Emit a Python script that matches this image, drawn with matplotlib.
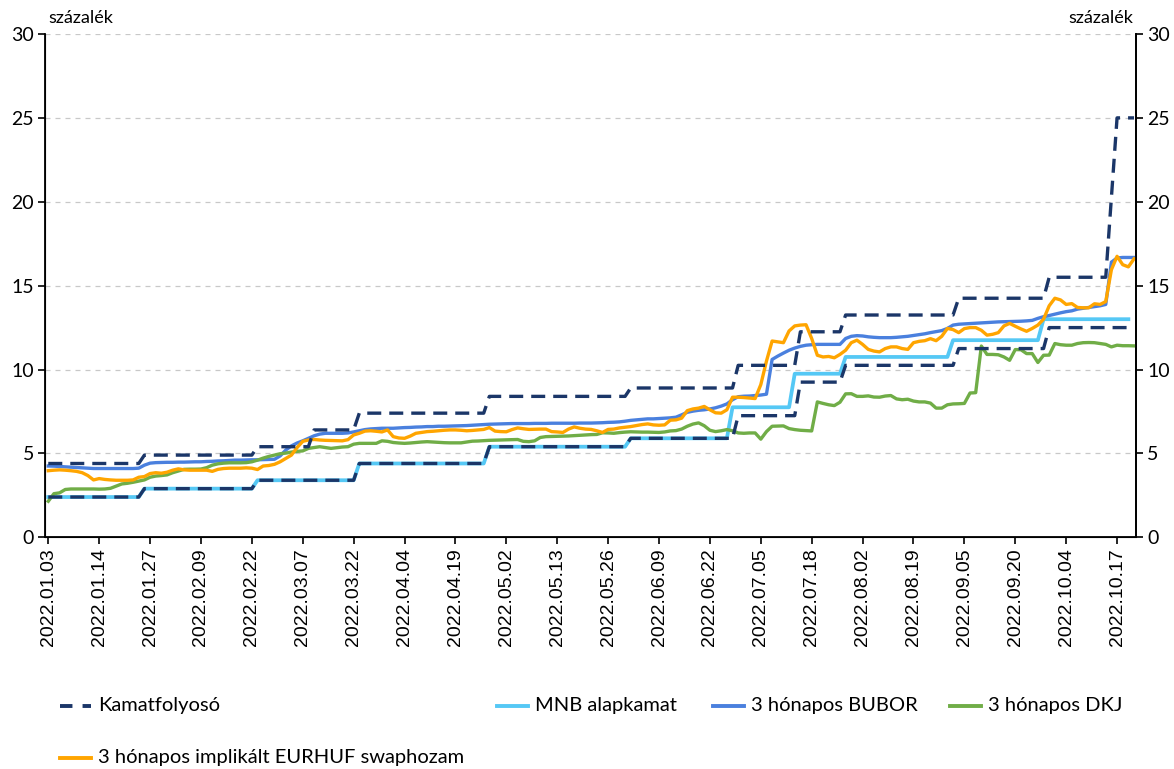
import matplotlib
matplotlib.use("Agg")
import matplotlib.pyplot as plt
from matplotlib.lines import Line2D
import numpy as np

# x axis: one label every 9 data points
date_labels = ["2022.01.03", "2022.01.14", "2022.01.27", "2022.02.09", "2022.02.22",
               "2022.03.07", "2022.03.22", "2022.04.04", "2022.04.19", "2022.05.02",
               "2022.05.13", "2022.05.26", "2022.06.09", "2022.06.22", "2022.07.05",
               "2022.07.18", "2022.08.02", "2022.08.19", "2022.09.05", "2022.09.20",
               "2022.10.04", "2022.10.17"]
label_step = 9
n_points = 193

# step series: level and number of days at that level
upper_levels = [4.4, 4.9, 5.4, 6.4, 7.4, 8.4, 8.9, 10.25, 12.25, 13.25, 14.25, 15.5, 20.25, 25.0]
upper_days = [17, 20, 10, 8, 23, 25, 19, 11, 8, 20, 16, 11, 1, 4]
lower_levels = [2.4, 2.9, 3.4, 4.4, 5.4, 5.9, 7.25, 9.25, 10.25, 11.25, 12.5]
lower_days = [17, 20, 18, 23, 25, 19, 11, 8, 20, 16, 16]
base_levels = [2.4, 2.9, 3.4, 4.4, 5.4, 5.9, 7.75, 9.75, 10.75, 11.75, 13.0]
base_days = [17, 20, 18, 23, 25, 18, 11, 9, 19, 16, 16]

bubor = [4.25, 4.24, 4.22, 4.2, 4.18, 4.16, 4.14, 4.12, 4.1, 4.1,
         4.1, 4.1, 4.1, 4.1, 4.1, 4.1, 4.12, 4.3, 4.42, 4.45,
         4.46, 4.47, 4.47, 4.48, 4.48, 4.49, 4.5, 4.5, 4.52, 4.53,
         4.55, 4.56, 4.58, 4.6, 4.6, 4.61, 4.62, 4.62, 4.63, 4.64,
         4.65, 4.85, 5.2, 5.45, 5.62, 5.75, 5.9, 6.05, 6.15, 6.2,
         6.2, 6.2, 6.2, 6.22, 6.28, 6.35, 6.42, 6.46, 6.48, 6.5,
         6.5, 6.5, 6.52, 6.54, 6.55, 6.57, 6.58, 6.6, 6.6, 6.62,
         6.62, 6.63, 6.64, 6.65, 6.66, 6.68, 6.7, 6.72, 6.74, 6.75,
         6.76, 6.77, 6.78, 6.78, 6.78, 6.78, 6.79, 6.79, 6.79, 6.8,
         6.8, 6.8, 6.8, 6.8, 6.81, 6.81, 6.81, 6.82, 6.83, 6.85,
         6.86, 6.88, 6.92, 6.97, 7.0, 7.03, 7.06, 7.06, 7.08, 7.1,
         7.12, 7.16, 7.3, 7.45, 7.52, 7.57, 7.6, 7.65, 7.72, 7.82,
         7.95, 8.2, 8.38, 8.41, 8.42, 8.45, 8.48, 8.53, 10.6, 10.8,
         10.98, 11.15, 11.28, 11.38, 11.45, 11.48, 11.5, 11.5, 11.5, 11.5,
         11.5, 11.85, 11.98, 12.02, 12.0, 11.95, 11.92, 11.9, 11.9, 11.9,
         11.92, 11.95, 11.98, 12.03, 12.08, 12.13, 12.2, 12.26, 12.32, 12.45,
         12.65, 12.7, 12.72, 12.74, 12.76, 12.78, 12.8, 12.82, 12.84, 12.85,
         12.86, 12.87, 12.88, 12.9, 12.93, 13.05, 13.15, 13.22, 13.3, 13.38,
         13.45, 13.5, 13.6, 13.65, 13.7, 13.75, 13.8, 13.88, 16.4, 16.65,
         16.68, 16.68, 16.68]

dkj = [2.15, 2.6, 2.65, 2.85, 2.88, 2.88, 2.88, 2.88, 2.88, 2.87,
       2.88, 2.92, 3.05, 3.18, 3.22, 3.28, 3.35, 3.42, 3.58, 3.65,
       3.68, 3.72, 3.85, 3.95, 4.05, 4.06, 4.06, 4.07, 4.15, 4.3,
       4.38, 4.42, 4.44, 4.44, 4.44, 4.45, 4.5, 4.6, 4.72, 4.82,
       4.9, 4.98, 5.02, 5.08, 5.12, 5.15, 5.3, 5.35, 5.4, 5.35,
       5.3, 5.34, 5.38, 5.4, 5.55, 5.6, 5.6, 5.6, 5.6, 5.75,
       5.72, 5.65, 5.62, 5.6, 5.62, 5.65, 5.68, 5.7, 5.68, 5.66,
       5.64, 5.63, 5.63, 5.63, 5.68, 5.73, 5.74, 5.76, 5.78, 5.79,
       5.8, 5.81, 5.82, 5.83, 5.72, 5.7, 5.75, 5.95, 6.0, 6.01,
       6.02, 6.03, 6.04, 6.06, 6.08, 6.1, 6.12, 6.13, 6.23, 6.22,
       6.2, 6.24, 6.27, 6.29, 6.28, 6.27, 6.27, 6.26, 6.25, 6.28,
       6.34, 6.36, 6.45, 6.62, 6.75, 6.82, 6.65, 6.38, 6.3, 6.35,
       6.42, 6.35, 6.22, 6.2, 6.22, 6.22, 5.85, 6.3, 6.62, 6.63,
       6.64, 6.48, 6.42, 6.38, 6.36, 6.34, 8.07, 7.98, 7.9, 7.85,
       8.05, 8.55, 8.56, 8.4, 8.4, 8.43, 8.36, 8.35, 8.42, 8.45,
       8.25, 8.2, 8.23, 8.12, 8.07, 8.07, 8.0, 7.7, 7.7, 7.9,
       7.95, 7.96, 7.98, 8.6, 8.62, 11.4, 10.9, 10.9, 10.88, 10.75,
       10.55, 11.19, 11.18, 10.95, 10.95, 10.42, 10.85, 10.86, 11.55, 11.48,
       11.45, 11.45, 11.55, 11.6, 11.61, 11.6, 11.55, 11.5, 11.35, 11.45,
       11.42, 11.42, 11.41]

swap = [3.97, 4.0, 4.02, 4.0, 3.97, 3.93, 3.85, 3.68, 3.42, 3.5,
        3.45, 3.42, 3.4, 3.4, 3.4, 3.42, 3.58, 3.62, 3.8, 3.85,
        3.82, 3.88, 4.0, 4.08, 4.02, 4.0, 4.0, 4.0, 4.0, 3.93,
        4.05, 4.1, 4.12, 4.12, 4.12, 4.14, 4.12, 4.04, 4.25, 4.28,
        4.35, 4.5, 4.7, 4.9, 5.35, 5.72, 5.8, 5.83, 5.8, 5.78,
        5.77, 5.76, 5.75, 5.82, 6.1, 6.2, 6.33, 6.35, 6.32, 6.28,
        6.4, 6.0, 5.92, 5.9, 6.03, 6.2, 6.25, 6.3, 6.32, 6.35,
        6.38, 6.4, 6.4, 6.38, 6.35, 6.37, 6.4, 6.43, 6.54, 6.33,
        6.3, 6.29, 6.42, 6.52, 6.47, 6.43, 6.44, 6.45, 6.45, 6.3,
        6.28, 6.25, 6.45, 6.58, 6.5, 6.45, 6.43, 6.35, 6.25, 6.43,
        6.45, 6.52, 6.56, 6.6, 6.66, 6.72, 6.76, 6.7, 6.68, 6.7,
        6.98, 7.0, 7.1, 7.55, 7.65, 7.7, 7.8, 7.6, 7.42, 7.4,
        7.6, 8.35, 8.35, 8.33, 8.3, 8.27, 9.1, 10.5, 11.7, 11.65,
        11.6, 12.3, 12.6, 12.65, 12.67, 11.85, 10.85, 10.75, 10.78, 10.7,
        10.9, 11.15, 11.6, 11.75, 11.5, 11.2, 11.1, 11.05, 11.25, 11.35,
        11.35, 11.25, 11.2, 11.6, 11.68, 11.72, 11.84, 11.72, 11.98, 12.45,
        12.38, 12.2, 12.44, 12.5, 12.5, 12.34, 12.05, 12.1, 12.2, 12.6,
        12.75, 12.58, 12.42, 12.28, 12.45, 12.65, 13.0, 13.8, 14.25, 14.15,
        13.88, 13.93, 13.7, 13.68, 13.68, 13.92, 13.88, 14.05, 15.95, 16.75,
        16.25, 16.12, 16.6]

C_CORR = "#1B3668"
C_BASE = "#55C8F5"
C_BUBOR = "#4A80DE"
C_DKJ = "#70AD47"
C_SWAP = "#FFA500"

FONT = ["Lato", "DejaVu Sans"]
W, H = 1174, 769

x = np.arange(n_points)
upper = np.repeat(upper_levels, upper_days)
lower = np.repeat(lower_levels, lower_days)
base = np.full(n_points, np.nan)
base_vals = np.repeat(base_levels, base_days)
base[:len(base_vals)] = base_vals

fig = plt.figure(figsize=(W / 100, H / 100), dpi=100)
ax = fig.add_axes([45 / W, 1 - 537.3 / H, (1136 - 45) / W, (537.3 - 34) / H])

lw = 2.4
ax.plot(x, base, color=C_BASE, lw=2.7, zorder=3)
ax.plot(x, bubor, color=C_BUBOR, lw=lw, zorder=4)
ax.plot(x, dkj, color=C_DKJ, lw=lw, zorder=5)
ax.plot(x, swap, color=C_SWAP, lw=lw, zorder=6)
dash = (4.2, 2.4)
ax.plot(x, upper, color=C_CORR, lw=lw, dashes=dash, zorder=7)
ax.plot(x, lower, color=C_CORR, lw=lw, dashes=dash, zorder=7)

ax.set_xlim(-0.58, 192.35)
ax.set_ylim(0, 30)
ax.set_yticks(range(0, 31, 5))
ax.set_xticks(np.arange(len(date_labels)) * label_step)
ax.set_xticklabels(date_labels, rotation=90, family=["Liberation Sans", "DejaVu Sans"],
                   fontsize=14)
ax.tick_params(axis="x", length=5, width=1.2, pad=3)
ax.tick_params(axis="y", length=5, width=1.2, labelsize=14, pad=3)
for lab in ax.get_yticklabels():
    lab.set_family(FONT)
ax.grid(axis="y", color="#C8C8C8", lw=0.9, dashes=(4, 4))
ax.set_axisbelow(True)
ax.spines["top"].set_visible(False)
for s in ("left", "right", "bottom"):
    ax.spines[s].set_linewidth(1.3)

ax2 = ax.twinx()
ax2.set_ylim(0, 30)
ax2.set_yticks(range(0, 31, 5))
ax2.tick_params(axis="y", length=5, width=1.2, labelsize=14, pad=3)
for lab in ax2.get_yticklabels():
    lab.set_family(FONT)
ax2.spines["top"].set_visible(False)
ax2.spines["right"].set_linewidth(1.3)

fig.text(48 / W, 1 - 18 / H, "százalék", family=FONT, fontsize=13, va="center", ha="left")
fig.text(1133 / W, 1 - 18 / H, "százalék", family=FONT, fontsize=13, va="center", ha="right")

# legend drawn by hand to keep Excel-like spacing
legend_items = [
    ("Kamatfolyosó", C_CORR, True, 60, 706),
    ("MNB alapkamat", C_BASE, False, 497, 706),
    ("3 hónapos BUBOR", C_BUBOR, False, 713, 706),
    ("3 hónapos DKJ", C_DKJ, False, 950, 706),
    ("3 hónapos implikált EURHUF swaphozam", C_SWAP, False, 60, 758),
]
for name, col, dashed, lx, ly in legend_items:
    yy = 1 - ly / H
    kw = dict(dashes=(3.2, 2.6)) if dashed else {}
    fig.add_artist(Line2D([lx / W, (lx + 31) / W], [yy, yy], color=col, lw=2.8,
                          transform=fig.transFigure, **kw))
    fig.text((lx + 38) / W, yy, name, family=FONT, fontsize=14.5, va="center", ha="left")

fig.savefig("out.png", dpi=100)
